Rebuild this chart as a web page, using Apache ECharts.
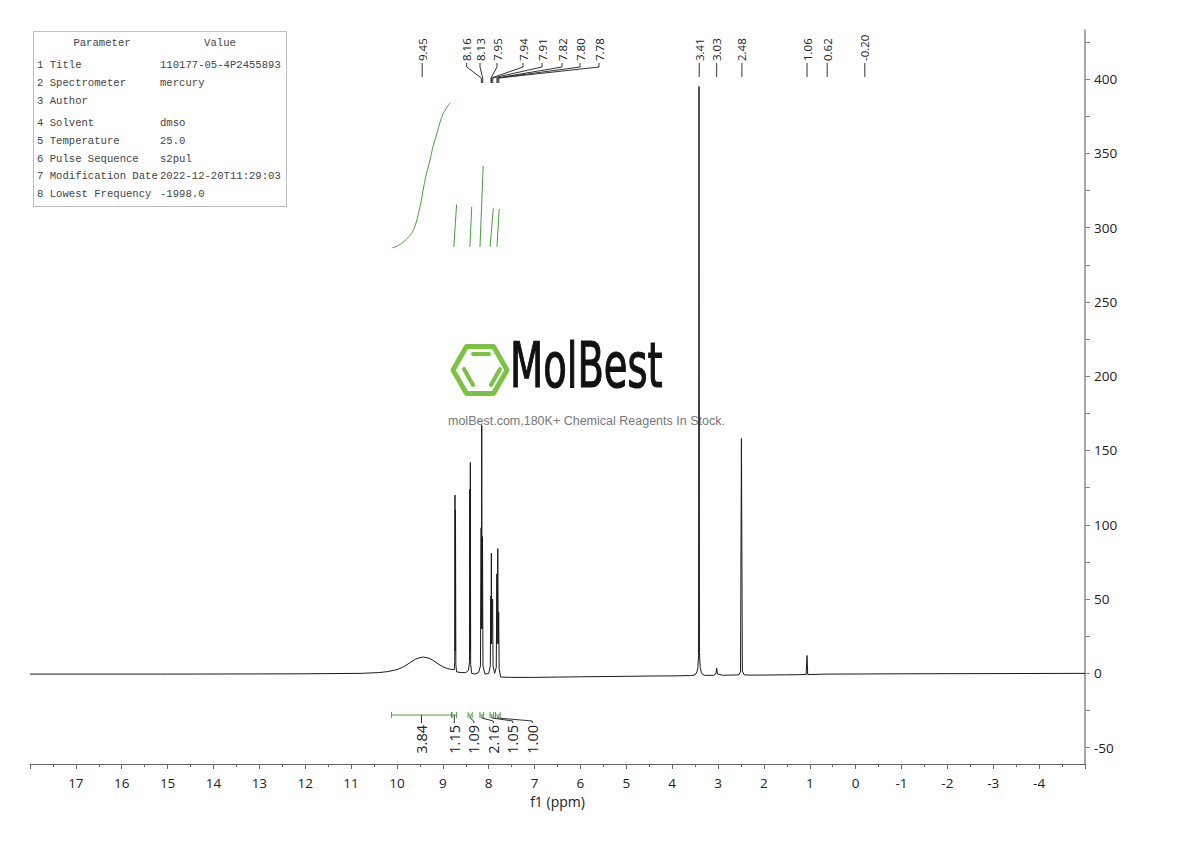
<!DOCTYPE html>
<html><head><meta charset="utf-8">
<script src="https://cdn.jsdelivr.net/npm/echarts@6/dist/echarts.min.js"></script>
<style>html,body{margin:0;padding:0;background:#fff}#c{width:1190px;height:841px}</style>
</head><body><div id="c"></div>
<script>
// ================= DATA =================
// 1H NMR trace: [ppm, intensity]
const spectrum = [
  [18.0,-0.5],[15.0,-0.5],[12.0,-0.3],[10.8,0],[10.4,0.5],[10.2,1.2],[10.0,2.5],[9.85,4.5],[9.7,7.5],
  [9.6,9.5],[9.5,10.6],[9.42,11],[9.3,10.2],[9.2,8.5],[9.1,6.3],[9.0,4.5],[8.9,3.2],[8.8,2.6],
  [8.75,2.5],[8.74,8],[8.735,120],[8.73,15],[8.724,110],[8.716,6],[8.70,1],[8.6,0.5],[8.5,0.5],
  [8.44,2],[8.418,8],[8.412,124],[8.406,15],[8.400,142],[8.393,6],[8.37,0],[8.3,-0.5],
  [8.22,0.5],[8.18,5],[8.165,98],[8.16,30],[8.152,167],[8.145,30],[8.135,92],[8.125,5],[8.08,-0.5],
  [8.0,0],[7.965,5],[7.955,52],[7.948,20],[7.942,81],[7.935,20],[7.915,50],[7.905,5],[7.87,0],
  [7.835,4],[7.822,67],[7.815,20],[7.802,84],[7.792,20],[7.782,41],[7.772,3],[7.74,-2.5],
  [7.5,-2.7],[7.0,-2.7],[6.5,-2.5],[6.0,-2.3],[5.0,-2],[4.5,-1.8],[4.0,-1.7],[3.6,-1.5],
  [3.5,-1],[3.46,1],[3.44,4],[3.425,12],[3.415,395],[3.405,14],[3.39,4],[3.36,0],[3.3,-1.3],
  [3.1,-1.3],[3.05,-0.5],[3.03,3.5],[3.01,-0.5],[2.9,-1.3],[2.55,-1],[2.51,1],[2.49,158],
  [2.47,1.5],[2.43,-1],[2.3,-1.2],[1.5,-1],[1.08,-0.8],[1.06,12],[1.045,-0.8],[0.6,-0.5],
  [-1,-0.3],[-5,0]
];
// integral S-curve (in intensity units of the right axis)
const integralCurve = [
  [10.10,286.4],[10.02,287.2],[9.90,289.4],[9.80,292],[9.68,296.1],[9.60,301.5],[9.53,309.6],
  [9.47,318],[9.43,325.3],[9.37,334.5],[9.28,345.5],[9.21,355],[9.13,363.4],[9.06,371],
  [8.99,376.9],[8.91,381],[8.84,384.0]
];
// small integral steps: [ppmStart, valueStart, ppmEnd, valueEnd]
const integralSteps = [
  [8.76,287,8.70,315.6],[8.41,287,8.37,314],[8.19,287,8.12,341.4],[7.97,287,7.90,313],[7.82,287,7.77,312.5]
];
// peak picking labels
const peakShifts = [9.45,8.16,8.13,7.95,7.94,7.91,7.82,7.80,7.78,3.41,3.03,2.48,1.06,0.62,-0.20];
const peakLabels = ['9.45','8.16','8.13','7.95','7.94','7.91','7.82','7.80','7.78','3.41','3.03','2.48','1.06','0.62','-0.20'];
// integration ranges and values
const integralRanges = [[10.12,8.81],[8.80,8.70],[8.45,8.36],[8.19,8.11],[7.97,7.89],[7.85,7.75]];
const integralValues = ['3.84','1.15','1.09','2.16','1.05','1.00'];
// axis ticks
const yLabelValues = [-50,0,50,100,150,200,250,300,350,400];
const yTickValues = [-50,-25,0,25,50,75,100,125,150,175,200,225,250,275,300,325,350,375,400,425];
// parameter table
const paramNames = ['1 Title','2 Spectrometer','3 Author','4 Solvent','5 Temperature','6 Pulse Sequence','7 Modification Date','8 Lowest Frequency'];
const paramValues = ['110177-05-4P2455893','mercury','','dmso','25.0','s2pul','2022-12-20T11:29:03','-1998.0'];

// ================= LAYOUT =================
const GREEN = '#4a9e3c';
const peakLabelX = [null,466.7,480,497,523,542,562,580,599,null,null,null,null,null,null];
const tableRowY = [65,83,101,123,141,159,176,194];

const chart = echarts.init(document.getElementById('c'), null, {renderer:'svg'});

const graphic = [];
// parameter table
graphic.push({type:'rect', shape:{x:33.5,y:31.5,width:253,height:175}, style:{fill:'#fff',stroke:'#bdbdbd',lineWidth:1}, z:0});
const tFont = '10.6px "Liberation Mono", monospace';
graphic.push({type:'text', x:102, y:43, style:{text:'Parameter', font:tFont, fill:'#444', align:'center', verticalAlign:'middle'}});
graphic.push({type:'text', x:220, y:43, style:{text:'Value', font:tFont, fill:'#444', align:'center', verticalAlign:'middle'}});
paramNames.forEach((n,i)=>{
  graphic.push({type:'text', x:37, y:tableRowY[i], style:{text:n, font:tFont, fill:'#444', align:'left', verticalAlign:'middle'}});
  graphic.push({type:'text', x:160, y:tableRowY[i], style:{text:paramValues[i], font:tFont, fill:'#444', align:'left', verticalAlign:'middle'}});
});
// watermark logo
const cx=480, cy=370, R=27, h=23.4;
graphic.push({type:'polygon', shape:{points:[[cx-R,cy],[cx-R/2,cy-h],[cx+R/2,cy-h],[cx+R,cy],[cx+R/2,cy+h],[cx-R/2,cy+h]]},
  style:{fill:'none',stroke:'#7cc242',lineWidth:5,lineJoin:'round'}});
graphic.push({type:'line', shape:{x1:473,y1:354,x2:489,y2:354}, style:{stroke:'#7cc242',lineWidth:4,lineCap:'round'}});
graphic.push({type:'line', shape:{x1:464,y1:369,x2:473,y2:385}, style:{stroke:'#7cc242',lineWidth:4,lineCap:'round'}});
graphic.push({type:'line', shape:{x1:500,y1:369,x2:491,y2:385}, style:{stroke:'#7cc242',lineWidth:4,lineCap:'round'}});
graphic.push({type:'text', x:510, y:397, scaleX:0.69, style:{text:'MolBest', font:'62px "DejaVu Sans Condensed","DejaVu Sans"', fill:'#111', stroke:'#111', lineWidth:1.2, align:'left', verticalAlign:'bottom'}});
graphic.push({type:'text', x:448, y:421, style:{text:'molBest.com,180K+ Chemical Reagents In Stock.', font:'12.5px "Liberation Sans", Arial', fill:'#777', align:'left', verticalAlign:'middle'}});

// integration label x (spread to avoid overlap)
function intLabelX(api){
  const out=[]; let prev=-1e9;
  integralRanges.forEach((r)=>{
    const c=(api.coord([r[0],0])[0]+api.coord([r[1],0])[0])/2;
    const x=Math.max(c, prev+19.5); out.push(x); prev=x;
  });
  return out;
}

const option = {
  backgroundColor:'#fff',
  animation:false,
  grid:{left:30,right:105,top:30,bottom:77},
  xAxis:{
    type:'value', min:-5, max:18, interval:1, inverse:true,
    name:'f1 (ppm)', nameLocation:'middle', nameGap:27,
    nameTextStyle:{fontFamily:'Open Sans', fontSize:14, color:'#222'},
    axisLine:{show:true, onZero:false, lineStyle:{color:'#666',width:1}},
    axisTick:{show:true, length:5, lineStyle:{color:'#666'}},
    minorTick:{show:true, splitNumber:2, length:3, lineStyle:{color:'#666'}},
    splitLine:{show:false}, minorSplitLine:{show:false},
    axisLabel:{margin:12, fontFamily:'Open Sans', fontSize:13.5, color:'#222',
      formatter:(v)=> (v===18||v===-5)?'':String(v)}
  },
  yAxis:{
    type:'value', position:'right', min:-61, max:433,
    axisLine:{show:true, onZero:false, lineStyle:{color:'#888',width:1.5}},
    axisTick:{show:true, length:5, customValues:yTickValues, lineStyle:{color:'#888'}},
    splitLine:{show:false},
    axisLabel:{margin:9, customValues:yLabelValues, fontFamily:'Open Sans', fontSize:13.5, color:'#222'}
  },
  graphic:{elements:graphic},
  series:[
    {type:'line', data:spectrum, showSymbol:false, symbol:'none', lineStyle:{color:'#1a1a1a',width:1}, z:3, silent:true},
    {type:'line', data:integralCurve, showSymbol:false, symbol:'none', smooth:0.3, lineStyle:{color:GREEN,width:1}, z:3, silent:true},
    {type:'custom', data:integralSteps.map((s)=>[s[0],s[1],s[2],s[3]]), z:3, silent:true,
      renderItem:(params, api)=>{
        const s=integralSteps[params.dataIndex];
        const p1=api.coord([s[0],s[1]]), p2=api.coord([s[2],s[3]]);
        return {type:'line', shape:{x1:p1[0],y1:p1[1],x2:p2[0],y2:p2[1]}, style:{stroke:GREEN,lineWidth:1}};
      }},
    {type:'custom', data:peakShifts.map((p,i)=>[p,i]), z:4, silent:true,
      renderItem:(params, api)=>{
        const i=params.dataIndex;
        const px=api.coord([peakShifts[i],0])[0];
        const lx=peakLabelX[i]!=null?peakLabelX[i]:px;
        const pts=peakLabelX[i]==null?[[px,63],[px,77]]:[[lx,63],[lx,67],[px,78],[px,83]];
        return {type:'group', children:[
          {type:'text', x:lx, y:61, rotation:Math.PI/2, style:{text:peakLabels[i], font:'11.5px "Open Sans"', fill:'#222', align:'left', verticalAlign:'middle'}},
          {type:'polyline', shape:{points:pts}, style:{stroke:'#333',lineWidth:1,fill:null}}
        ]};
      }},
    {type:'custom', data:integralRanges.map((r,i)=>[r[0],i]), z:4, silent:true,
      renderItem:(params, api)=>{
        const i=params.dataIndex, r=integralRanges[i];
        const x1=api.coord([r[0],0])[0], x2=api.coord([r[1],0])[0];
        const y=715, c=(x1+x2)/2, lx=intLabelX(api)[i];
        const lead = Math.abs(lx-c)<1 ? [[c,y],[c,723]] : [[c,y+1],[c,y+3],[lx,721],[lx,723]];
        return {type:'group', children:[
          {type:'line', shape:{x1:x1,y1:y,x2:x2,y2:y}, style:{stroke:GREEN,lineWidth:1}},
          {type:'line', shape:{x1:x1,y1:y-3,x2:x1,y2:y+3}, style:{stroke:GREEN,lineWidth:1}},
          {type:'line', shape:{x1:x2,y1:y-3,x2:x2,y2:y+3}, style:{stroke:GREEN,lineWidth:1}},
          {type:'polyline', shape:{points:lead}, style:{stroke:'#333',lineWidth:1,fill:null}},
          {type:'text', x:lx, y:725, rotation:Math.PI/2, style:{text:integralValues[i], font:'14.5px "Open Sans"', fill:'#222', align:'right', verticalAlign:'middle'}}
        ]};
      }}
  ]
};
chart.setOption(option);
</script></body></html>
